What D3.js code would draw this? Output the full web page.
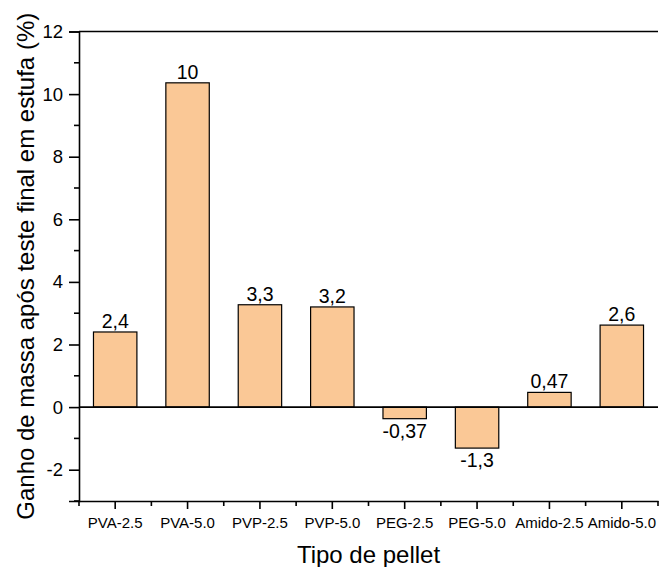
<!DOCTYPE html>
<html>
<head>
<meta charset="utf-8">
<script src="https://cdn.jsdelivr.net/npm/d3@7"></script>
<style>
  body { margin: 0; background: #fff; }
  svg { display: block; font-family: "Liberation Sans", Arial, sans-serif; }
</style>
</head>
<body>
<div id="chart"></div>
<script>
// data
const categories = ['PVA-2.5', 'PVA-5.0', 'PVP-2.5', 'PVP-5.0', 'PEG-2.5', 'PEG-5.0', 'Amido-2.5', 'Amido-5.0'];
const values = [2.4, 10.36, 3.27, 3.2, -0.37, -1.31, 0.47, 2.62];
const valueLabels = ['2,4', '10', '3,3', '3,2', '-0,37', '-1,3', '0,47', '2,6'];
const yTicks = [-2, 0, 2, 4, 6, 8, 10, 12];
const yMinorTicks = [-3, -1, 1, 3, 5, 7, 9, 11];

const width = 659, height = 567;
const margin = { top: 31.5, right: 1, bottom: 66, left: 79 };
const font = "'Liberation Sans', Arial, sans-serif";

const svg = d3.select('#chart').append('svg')
  .attr('width', width)
  .attr('height', height);

const x = d3.scaleBand()
  .domain(categories)
  .range([margin.left, width - margin.right])
  .paddingInner(0.4)
  .paddingOuter(0.2);

const y = d3.scaleLinear()
  .domain([-3, 12])
  .range([height - margin.bottom, margin.top]);

const plotBottom = y(-3), plotTop = y(12);
const xLeft = x.range()[0], xRight = x.range()[1];

// bars
svg.append('g')
  .selectAll('rect')
  .data(values)
  .join('rect')
  .attr('x', (d, i) => x(categories[i]))
  .attr('width', x.bandwidth())
  .attr('y', d => y(Math.max(0, d)))
  .attr('height', d => Math.abs(y(d) - y(0)))
  .attr('fill', '#FAC896')
  .attr('stroke', '#000')
  .attr('stroke-width', 1.2);

// value labels
svg.append('g')
  .selectAll('text')
  .data(values)
  .join('text')
  .attr('x', (d, i) => x(categories[i]) + x.bandwidth() / 2)
  .attr('y', d => d >= 0 ? y(d) - 4 : y(d) + 19)
  .attr('text-anchor', 'middle')
  .attr('font-family', font)
  .attr('font-size', '19.5px')
  .attr('fill', '#000')
  .text((d, i) => valueLabels[i]);

// zero line
svg.append('line')
  .attr('x1', xLeft).attr('x2', xRight)
  .attr('y1', y(0)).attr('y2', y(0))
  .attr('stroke', '#000').attr('stroke-width', 1.6);

// top border
svg.append('line')
  .attr('x1', xLeft).attr('x2', xRight)
  .attr('y1', plotTop).attr('y2', plotTop)
  .attr('stroke', '#000').attr('stroke-width', 1.6);

// y axis
const yAxis = svg.append('g')
  .attr('transform', `translate(${xLeft},0)`)
  .call(d3.axisLeft(y).tickValues(yTicks).tickSize(10).tickPadding(6).tickFormat(d => String(d)));
yAxis.select('.domain').attr('stroke-width', 1.6);
yAxis.selectAll('.tick line').attr('stroke-width', 1.6);
yAxis.selectAll('.tick text').attr('font-size', '18.5px').attr('font-family', font);
yAxis.selectAll('.minor')
  .data(yMinorTicks)
  .join('line')
  .attr('class', 'minor')
  .attr('x1', 0).attr('x2', -5)
  .attr('y1', d => y(d)).attr('y2', d => y(d))
  .attr('stroke', '#000').attr('stroke-width', 1.6);

// x axis
const xAxis = svg.append('g')
  .attr('transform', `translate(0,${plotBottom})`)
  .call(d3.axisBottom(x).tickSize(8).tickPadding(8).tickSizeOuter(0));
xAxis.select('.domain').attr('stroke-width', 1.6);
xAxis.selectAll('.tick line').attr('stroke-width', 1.6);
xAxis.selectAll('.tick text').attr('font-size', '15px').attr('font-family', font);
const boundaries = categories.map((c, i) => x(c) - x.step() * 0.2).concat([xRight]);
xAxis.selectAll('.minor')
  .data(boundaries)
  .join('line')
  .attr('class', 'minor')
  .attr('x1', d => d).attr('x2', d => d)
  .attr('y1', 0).attr('y2', 5)
  .attr('stroke', '#000').attr('stroke-width', 1.6);

// axis titles
svg.append('text')
  .attr('x', (xLeft + xRight) / 2)
  .attr('y', 563)
  .attr('text-anchor', 'middle')
  .attr('font-family', font)
  .attr('font-size', '24px')
  .text('Tipo de pellet');

svg.append('text')
  .attr('transform', `translate(33.5,${(plotTop + plotBottom) / 2}) rotate(-90)`)
  .attr('text-anchor', 'middle')
  .attr('font-family', font)
  .attr('font-size', '24px')
  .text('Ganho de massa após teste final em estufa (%)');
</script>
</body>
</html>
